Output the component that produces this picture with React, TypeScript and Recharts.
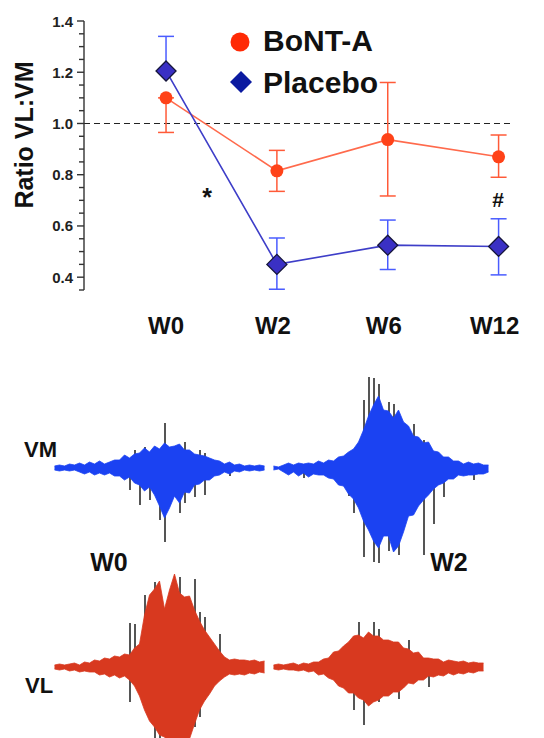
import React from 'react';
import {
  LineChart, Line, XAxis, YAxis, ReferenceLine, ErrorBar,
  ComposedChart, Area, Bar,
} from 'recharts';

const FONT = '"Liberation Sans", Arial, sans-serif';

// ---- top chart data ----
const weeks = ['W0', 'W2', 'W6', 'W12'];
const bontA = [1.1, 0.815, 0.937, 0.87];
const bontErrLow = [0.135, 0.08, 0.22, 0.08];
const bontErrHigh = [0, 0.08, 0.223, 0.085];
const placebo = [1.205, 0.45, 0.525, 0.52];
const placeboErrLow = [0, 0.097, 0.095, 0.111];
const placeboErrHigh = [0.135, 0.103, 0.098, 0.108];
const yTicks = [0.35, 0.4, 0.45, 0.5, 0.55, 0.6, 0.65, 0.7, 0.75, 0.8, 0.85, 0.9, 0.95, 1.0, 1.05, 1.1, 1.15, 1.2, 1.25, 1.3, 1.35, 1.4];
const yMajor = [0.4, 0.6, 0.8, 1.0, 1.2, 1.4];
const yTickLabels = ['0.4', '0.6', '0.8', '1.0', '1.2', '1.4'];
const legendLabels = ['BoNT-A', 'Placebo'];

// ---- EMG traces (amplitude above / below baseline) ----
const vmW0Hi = [2, 3, 2, 4, 3, 5, 3, 6, 4, 7, 4, 6, 8, 8, 13, 10, 14, 15, 20, 16, 22, 19, 25, 21, 22, 24, 18, 18, 14, 13, 12, 10, 8, 7, 4, 6, 3, 4, 2, 3, 2, 3, 2];
const vmW0Lo = [-2, -3, -2, -3, -2, -4, -6, -4, -7, -5, -7, -5, -8, -8, -12, -9, -15, -17, -23, -19, -27, -38, -50, -40, -28, -35, -24, -25, -17, -16, -12, -12, -8, -7, -4, -6, -3, -4, -2, -3, -2, -3, -2];
const vmW0Spikes = [[15, 0, -22], [16, 18, 0], [17, 0, -37], [18, 21, 0], [19, 0, -32], [21, 0, -52], [22, 45, -74], [25, 0, -45], [26, 26, -35], [28, 0, -29], [29, 18, 0], [30, 15, -27], [35, 0, -8]];

const vmW2Hi = [2, 1, 3, 5, 3, 5, 4, 5, 4, 7, 5, 8, 7, 11, 12, 16, 19, 26, 38, 52, 63, 72, 58, 57, 50, 58, 46, 42, 32, 31, 25, 26, 17, 16, 11, 11, 7, 7, 4, 6, 4, 5, 3, 3];
const vmW2Lo = [-2, -1, -4, -7, -4, -8, -5, -9, -6, -7, -7, -10, -11, -17, -18, -26, -31, -40, -53, -62, -73, -80, -68, -68, -84, -78, -64, -48, -47, -38, -32, -27, -21, -17, -15, -11, -11, -7, -8, -7, -7, -6, -6, -4];
const vmW2Spikes = [[6, 0, -10], [15, 0, -28], [16, 0, -45], [18, 68, -89], [19, 91, 0], [20, 90, -94], [21, 84, -95], [23, 66, -83], [24, 64, 0], [25, 0, -87], [28, 44, 0], [30, 28, -87], [32, 0, -56], [34, 0, -29], [40, 0, -12]];

const vlW0Hi = [2, 3, 2, 3, 4, 2, 5, 4, 7, 6, 9, 8, 11, 10, 13, 12, 19, 23, 52, 72, 78, 86, 58, 77, 93, 74, 70, 71, 57, 46, 37, 30, 23, 16, 10, 7, 8, 7, 7, 6, 7, 5, 6];
const vlW0Lo = [-2, -3, -2, -4, -3, -5, -4, -5, -5, -8, -7, -10, -8, -11, -9, -13, -19, -29, -43, -54, -60, -68, -70, -76, -80, -80, -78, -72, -57, -43, -34, -27, -19, -14, -10, -7, -8, -7, -8, -6, -7, -5, -6];
const vlW0Spikes = [[15, 44, -35], [16, 43, 0], [18, 72, 0], [20, 85, -80], [21, 0, -80], [25, 90, 0], [26, 0, -80], [28, 88, -60], [29, 55, -50], [30, 50, -33], [33, 33, 0]];

const vlW2Hi = [2, 3, 2, 3, 4, 2, 4, 3, 5, 5, 8, 9, 15, 16, 21, 25, 31, 32, 29, 35, 31, 31, 27, 27, 25, 25, 19, 18, 14, 15, 9, 9, 8, 8, 5, 7, 6, 5, 6, 4, 5, 4, 4];
const vlW2Lo = [-2, -3, -2, -3, -3, -4, -3, -5, -4, -8, -7, -11, -13, -19, -21, -26, -26, -31, -33, -39, -35, -33, -29, -29, -25, -25, -21, -16, -17, -13, -13, -9, -10, -8, -9, -6, -8, -6, -7, -5, -6, -4, -4];
const vlW2Spikes = [[16, 0, -43], [17, 45, 0], [18, 0, -58], [20, 45, 0], [21, 38, -35], [25, 0, -32], [27, 27, 0], [31, 0, -20]];

const topData = weeks.map((w, i) => ({
  x: i,
  week: w,
  bont: bontA[i],
  bontErr: [bontErrLow[i], bontErrHigh[i]],
  placebo: placebo[i],
  placeboErr: [placeboErrLow[i], placeboErrHigh[i]],
}));

function buildWave(hi: number[], lo: number[], spikes: number[][]) {
  return hi.map((h, i) => {
    const s = spikes.find((sp) => sp[0] === i);
    return { i, hi: h, lo: lo[i], shi: s ? s[1] : null, slo: s ? s[2] : null };
  });
}

const YTick = (props: any) => {
  const { y, payload } = props;
  const v = payload.value;
  const mi = yMajor.findIndex((m) => Math.abs(m - v) < 1e-6);
  const major = mi >= 0;
  return (
    <g>
      <line x1={major ? 77 : 79} x2={84} y1={y} y2={y} stroke="#333" strokeWidth={1.4} />
      {major && (
        <text x={73} y={y + 5.5} textAnchor="end" fontFamily={FONT} fontWeight="bold" fontSize={15} fill="#222">
          {yTickLabels[mi]}
        </text>
      )}
    </g>
  );
};

const XTick = (props: any) => {
  const { x, payload } = props;
  const idx = payload.value;
  return (
    <text x={x - (idx === 0 ? 0 : 4)} y={334} textAnchor="middle" fontFamily={FONT} fontWeight="bold" fontSize={24} fill="#111">
      {weeks[idx]}
    </text>
  );
};

const CircleDot = (props: any) => {
  const { cx, cy, index } = props;
  return <circle key={'c' + index} cx={cx} cy={cy} r={6.5} fill="#ff4218" />;
};

const DiamondDot = (props: any) => {
  const { cx, cy, index } = props;
  const r = 10;
  return (
    <polygon
      key={'d' + index}
      points={`${cx},${cy - r} ${cx + r},${cy} ${cx},${cy + r} ${cx - r},${cy}`}
      fill="#3a30c4"
      stroke="#15153a"
      strokeWidth={1.3}
    />
  );
};

function WaveLayer(props: { data: any[]; width: number; height: number; domain: [number, number]; color: string; front: boolean }) {
  const { data, width, height, domain, color, front } = props;
  return (
    <div style={{ position: 'absolute', left: 0, top: 0, width, height }}>
      <ComposedChart width={width} height={height} data={data} margin={{ top: 0, right: 0, bottom: 0, left: 0 }} barCategoryGap={0}>
        <XAxis dataKey="i" hide />
        <YAxis hide domain={domain} allowDataOverflow />
        <Bar
          dataKey={(d: any) => (d.shi === null ? null : [d.slo, d.shi])}
          fill={front ? 'none' : '#555555'}
          barSize={2}
          isAnimationActive={false}
        />
        <Area
          dataKey={(d: any) => [d.lo, d.hi]}
          type="linear"
          stroke={front ? color : 'none'}
          strokeWidth={0.8}
          fill={front ? color : 'none'}
          fillOpacity={1}
          dot={false}
          activeDot={false}
          isAnimationActive={false}
        />
      </ComposedChart>
    </div>
  );
}

function Wave(props: { data: any[]; left: number; top: number; width: number; height: number; domain: [number, number]; color: string }) {
  const { data, left, top, width, height, domain, color } = props;
  return (
    <div style={{ position: 'absolute', left, top, width, height }}>
      <WaveLayer data={data} width={width} height={height} domain={domain} color={color} front={false} />
      <WaveLayer data={data} width={width} height={height} domain={domain} color={color} front={true} />
    </div>
  );
}

export default function App() {
  const blue = '#1b42f2';
  const red = '#d8391f';
  return (
    <div style={{ position: 'absolute', left: 0, top: 0, width: 544, height: 738, background: '#fff', overflow: 'hidden' }}>
      <div style={{ position: 'absolute', left: 0, top: 0 }}>
        <LineChart width={544} height={345} data={topData} margin={{ top: 21, right: 31, bottom: 0, left: 0 }}>
          <XAxis
            dataKey="x"
            type="number"
            domain={[-0.74, 3.13]}
            ticks={[0, 1, 2, 3]}
            axisLine={false}
            tickLine={false}
            height={55}
            tick={<XTick />}
            interval={0}
          />
          <YAxis
            type="number"
            domain={[0.35, 1.4]}
            ticks={yTicks}
            interval={0}
            width={84}
            axisLine={{ stroke: '#333', strokeWidth: 1.4 }}
            tickLine={false}
            tick={<YTick />}
          />
          <ReferenceLine y={1.0} stroke="#222" strokeDasharray="6 4" strokeWidth={1.2} />
          <Line
            dataKey="bont"
            type="linear"
            stroke="#ff6a4c"
            strokeWidth={1.6}
            dot={<CircleDot />}
            activeDot={false}
            isAnimationActive={false}
          >
            <ErrorBar dataKey="bontErr" direction="y" width={8} stroke="#ff5a38" strokeWidth={1.5} />
          </Line>
          <Line
            dataKey="placebo"
            type="linear"
            stroke="#3e3ec8"
            strokeWidth={1.6}
            dot={<DiamondDot />}
            activeDot={false}
            isAnimationActive={false}
          >
            <ErrorBar dataKey="placeboErr" direction="y" width={8} stroke="#4a5cff" strokeWidth={1.5} />
          </Line>
        </LineChart>
      </div>

      <Wave data={buildWave(vmW0Hi, vmW0Lo, vmW0Spikes)} left={52} top={370} width={215} height={200} domain={[-102, 98]} color={blue} />
      <Wave data={buildWave(vmW2Hi, vmW2Lo, vmW2Spikes)} left={271} top={370} width={220} height={200} domain={[-102, 98]} color={blue} />
      <Wave data={buildWave(vlW0Hi, vlW0Lo, vlW0Spikes)} left={52} top={570} width={215} height={168} domain={[-71, 97]} color={red} />
      <Wave data={buildWave(vlW2Hi, vlW2Lo, vlW2Spikes)} left={271} top={570} width={215} height={168} domain={[-71, 97]} color={red} />

      <svg width={544} height={738} style={{ position: 'absolute', left: 0, top: 0, pointerEvents: 'none' }}>
        <text x={33} y={135} transform="rotate(-90 33 135)" textAnchor="middle" fontFamily={FONT} fontWeight="bold" fontSize={25} fill="#111">
          Ratio VL:VM
        </text>
        <circle cx={240} cy={42} r={9.5} fill="#ff2a05" />
        <text x={263} y={51} fontFamily={FONT} fontWeight="bold" fontSize={30} fill="#111">{legendLabels[0]}</text>
        <polygon points="241,71 252,82 241,93 230,82" fill="#0b1aa0" />
        <text x={263} y={93} fontFamily={FONT} fontWeight="bold" fontSize={30} fill="#111">{legendLabels[1]}</text>
        <text x={207} y={206} textAnchor="middle" fontFamily={FONT} fontWeight="bold" fontSize={25} fill="#111">*</text>
        <text x={498} y={207} textAnchor="middle" fontFamily={FONT} fontWeight="bold" fontSize={21} fill="#111">#</text>
        <text x={24} y={457} fontFamily={FONT} fontWeight="bold" fontSize={22} fill="#111">VM</text>
        <text x={109} y={571} textAnchor="middle" fontFamily={FONT} fontWeight="bold" fontSize={25} fill="#111">W0</text>
        <text x={449} y={571} textAnchor="middle" fontFamily={FONT} fontWeight="bold" fontSize={25} fill="#111">W2</text>
        <text x={25} y={693} fontFamily={FONT} fontWeight="bold" fontSize={22} fill="#111">VL</text>
      </svg>
    </div>
  );
}
